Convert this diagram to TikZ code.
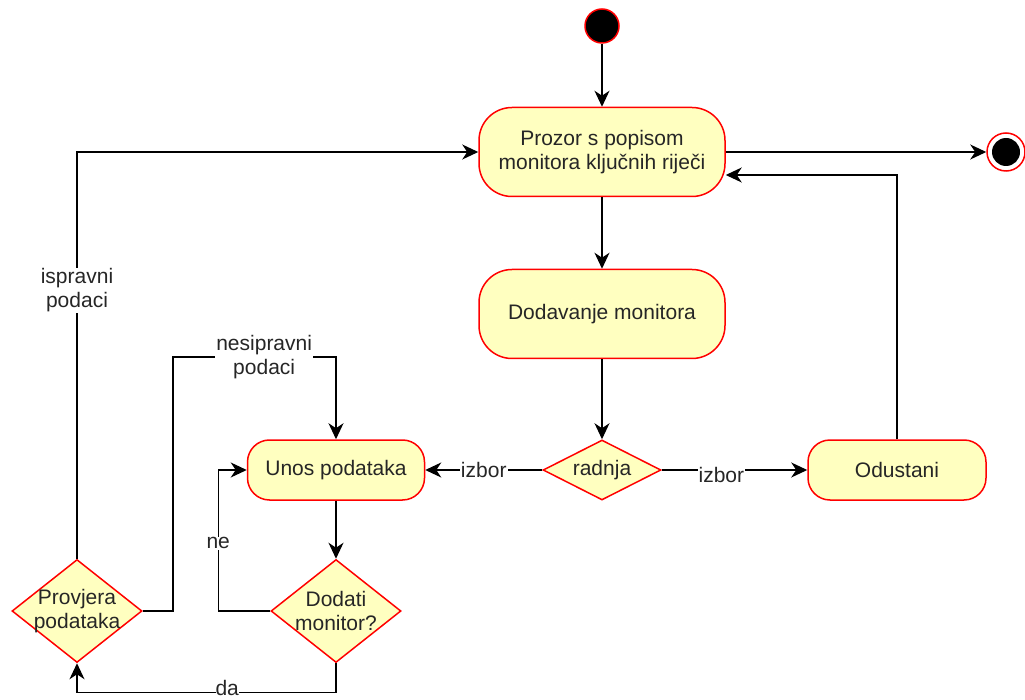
\documentclass[tikz,border=0pt]{standalone}
\usepackage{fontspec}
\setmainfont{Liberation Sans}
\usepackage{tikz}
\usetikzlibrary{arrows.meta, positioning, shapes.geometric, calc}
\definecolor{actfill}{HTML}{FFFFC0}
\definecolor{actline}{HTML}{FF0000}
\newcommand{\ctr}[1]{\makebox[0pt]{#1}}

\begin{document}
\begin{tikzpicture}[x=1pt, y=-1pt, >={Stealth[length=16pt, width=15pt, inset=5pt]},
    font=\fontsize{21}{23.5}\selectfont, text=black!85,
    every path/.style={line width=1.5pt},
    activity/.style={draw=actline, fill=actfill, rectangle, align=center, minimum width=246pt, minimum height=89pt, rounded corners=33pt},
    smallact/.style={activity, minimum width=178pt, minimum height=60pt, rounded corners=22pt},
    decision/.style={draw=actline, fill=actfill, diamond, align=center, inner sep=0pt, minimum width=130pt, minimum height=103pt},
    lbl/.style={fill=white, inner sep=1pt, align=center}
]
    \useasboundingbox (0,0) rectangle (1025,700);

    % Nodes
    \node[circle, draw=actline, fill=black, minimum size=34pt, inner sep=0pt] (start) at (602,26) {};
    \node[activity] (prozor) at (602,152) {Prozor s popisom\\monitora ključnih riječi};
    \node[activity] (dodavanje) at (602,314) {Dodavanje monitora};
    \node[decision, minimum width=118pt, minimum height=60pt] (radnja) at (602,470) {\ctr{radnja}};
    \node[smallact, minimum width=177pt] (unos) at (336,470) {Unos podataka};
    \node[smallact] (odustani) at (897,470) {Odustani};
    \node[decision] (dodati) at (336,611) {\ctr{Dodati}\\\ctr{monitor?}};
    \node[decision] (provjera) at (77,611) {\ctr{Provjera}\\\ctr{podataka}};
    \node[circle, draw=actline, fill=white, minimum size=38pt, inner sep=0pt] (end) at (1006,152) {};
    \fill[black] (end.center) circle (14pt);

    % Lines
    \draw[->] (start) -- (prozor);
    \draw[->] (prozor) -- (dodavanje);
    \draw[->] (dodavanje) -- (radnja);
    \draw[->] (prozor) -- (end);
    \draw[->] (radnja) -- (unos) node[lbl, midway] {izbor};
    \draw[->] (radnja) -- (odustani) node[lbl, pos=0.41, yshift=-5pt] {izbor};
    \draw[->] (odustani.north) |- ([yshift=-23pt]prozor.east);
    \draw[->] (unos) -- (dodati);
    \draw[->] (dodati.west) -- ++(-52,0) |- (unos.west) node[lbl, pos=0.24] {ne};
    \draw[->] (dodati.south) -- ++(0,29) -| (provjera.south) node[lbl, pos=0.21, yshift=4pt, inner sep=0pt] {da};
    \draw[->] (provjera.east) -- ++(30,0) |- ([yshift=82pt]unos.north) node[lbl, pos=0.78] {nesipravni\\podaci} -- (unos.north);
    \draw[->] (provjera.north) |- (prozor.west) node[lbl, pos=0.33] {ispravni\\podaci};
\end{tikzpicture}
\end{document}
